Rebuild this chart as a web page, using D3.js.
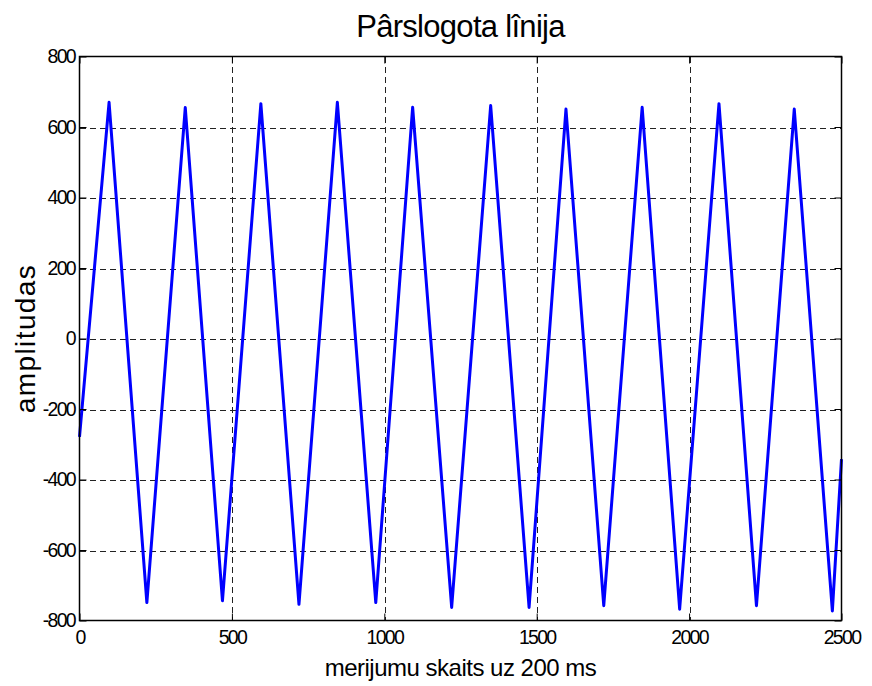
<!DOCTYPE html>
<html>
<head>
<meta charset="utf-8">
<script src="https://cdn.jsdelivr.net/npm/d3@7"></script>
<style>
  body { margin: 0; background: #fff; }
  svg { display: block; font-family: "Liberation Sans", Arial, sans-serif; }
</style>
</head>
<body>
<div id="chart"></div>
<script>
const startPoint = [0, -279];
const endPoint = [2500, -342];
const peakX = [97, 347, 595, 846, 1093, 1349, 1596, 1846, 2098, 2345];
const peakY = [670, 655, 666, 670, 656, 661, 651, 656, 666, 651];
const troughX = [221, 469, 720, 972, 1221, 1475, 1720, 1969, 2221, 2470];
const troughY = [-749, -744, -754, -749, -763, -763, -758, -768, -758, -773];

const xTicks = [0, 500, 1000, 1500, 2000, 2500];
const yTicks = [-800, -600, -400, -200, 0, 200, 400, 600, 800];

const W = 872, H = 686;
const margin = { top: 56.5, right: 30.5, bottom: 65.5, left: 79.5 };
const w = W - margin.left - margin.right;
const h = H - margin.top - margin.bottom;

// assemble the line: start, then peak/trough alternating, then end
let points = [startPoint];
peakX.forEach((px, i) => {
  points.push([px, peakY[i]]);
  points.push([troughX[i], troughY[i]]);
});
points.push(endPoint);

const svg = d3.select("#chart").append("svg")
  .attr("width", W)
  .attr("height", H);

const g = svg.append("g")
  .attr("transform", "translate(" + margin.left + "," + margin.top + ")");

const x = d3.scaleLinear().domain([0, 2500]).range([0, w]);
const y = d3.scaleLinear().domain([-800, 800]).range([h, 0]);

// grid
const grid = g.append("g").attr("class", "grid");
grid.selectAll("line.gx")
  .data(xTicks.slice(1, -1)).enter()
  .append("line")
    .attr("x1", d => Math.round(x(d)) + 0.5).attr("x2", d => Math.round(x(d)) + 0.5)
    .attr("y1", 0).attr("y2", h);
grid.selectAll("line.gy")
  .data(yTicks.slice(1, -1)).enter()
  .append("line")
    .attr("y1", d => Math.round(y(d)) + 0.5).attr("y2", d => Math.round(y(d)) + 0.5)
    .attr("x1", 0).attr("x2", w);
grid.selectAll("line")
  .attr("stroke", "#222")
  .attr("stroke-width", 1)
  .attr("stroke-dasharray", "6,4")
  .attr("shape-rendering", "crispEdges");

// signal
const line = d3.line().x(d => x(d[0])).y(d => y(d[1]));
g.append("path")
  .datum(points)
  .attr("fill", "none")
  .attr("stroke", "#0000ff")
  .attr("stroke-width", 3)
  .attr("stroke-linejoin", "round")
  .attr("d", line);

// axes with inward ticks, box on
const tickLen = 7;
const fmt = d => String(d);
g.append("g")
  .attr("class", "axis")
  .attr("transform", "translate(0," + h + ")")
  .call(d3.axisBottom(x).tickValues(xTicks).tickSizeInner(-tickLen).tickSizeOuter(0).tickPadding(9.5).tickFormat(fmt));
g.append("g")
  .attr("class", "axis")
  .call(d3.axisLeft(y).tickValues(yTicks).tickSizeInner(-tickLen).tickSizeOuter(0).tickPadding(4.5).tickFormat(fmt));
g.append("g")
  .call(d3.axisTop(x).tickValues(xTicks).tickSizeInner(-tickLen).tickSizeOuter(0).tickFormat(""));
g.append("g")
  .attr("transform", "translate(" + w + ",0)")
  .call(d3.axisRight(y).tickValues(yTicks).tickSizeInner(-tickLen).tickSizeOuter(0).tickFormat(""));

g.selectAll(".domain").attr("stroke", "none");
g.selectAll(".tick line").attr("stroke", "#000");
g.selectAll(".axis .tick text")
  .attr("fill", "#000")
  .style("font-family", "'Liberation Sans', Arial, sans-serif")
  .style("font-size", "19.5px")
  .style("letter-spacing", "-1.7px");

g.append("rect")
  .attr("width", w).attr("height", h)
  .attr("fill", "none")
  .attr("stroke", "#000")
  .attr("stroke-width", 1.5);

// labels
svg.append("text")
  .attr("x", margin.left + w / 2).attr("y", 37)
  .attr("text-anchor", "middle")
  .style("font-size", "31px").style("letter-spacing", "-0.7px")
  .text("Pârslogota lînija");

svg.append("text")
  .attr("x", margin.left + w / 2).attr("y", 676)
  .attr("text-anchor", "middle")
  .style("font-size", "24px").style("letter-spacing", "-0.5px")
  .text("merijumu skaits uz 200 ms");

svg.append("text")
  .attr("transform", "translate(35," + (margin.top + h / 2) + ") rotate(-90)")
  .attr("text-anchor", "middle")
  .style("font-size", "28px").style("letter-spacing", "1.4px")
  .text("amplitudas");
</script>
</body>
</html>
